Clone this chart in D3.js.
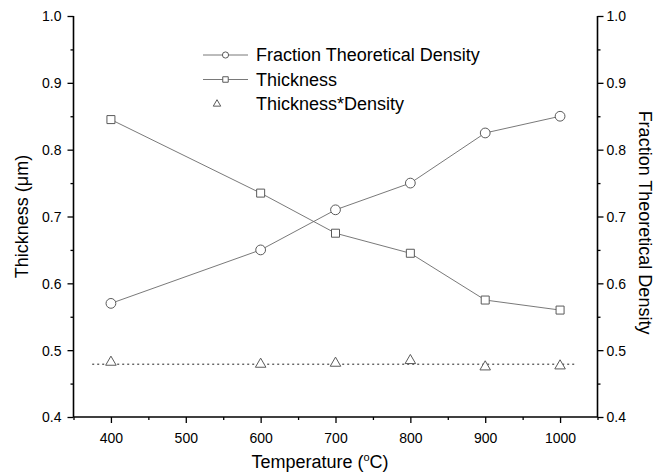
<!DOCTYPE html>
<html>
<head>
<meta charset="utf-8">
<script src="https://cdn.jsdelivr.net/npm/d3@7"></script>
<style>
	body { margin: 0; background: white; }
	text { font-family: "Liberation Sans", Arial, sans-serif; fill: black; }
</style>
</head>
<body>
<svg id="chart" width="660" height="474"></svg>
<script>
// data
var temps = [400, 600, 700, 800, 900, 1000]
var density = [0.57, 0.65, 0.71, 0.75, 0.825, 0.85]
var thickness = [0.845, 0.735, 0.675, 0.645, 0.575, 0.56]
var thickDens = [0.482, 0.479, 0.4805, 0.4845, 0.475, 0.4765]
var avgLine = [[375, 0.479], [1020, 0.479]]
var xTicks = [400, 500, 600, 700, 800, 900, 1000]
var yTicks = [0.4, 0.5, 0.6, 0.7, 0.8, 0.9, 1.0]

var m = {left: 73.5, right: 62.5, top: 16, bottom: 57}
var W = 660, H = 474
var svg = d3.select("#chart")

var x = d3.scaleLinear().domain([350, 1050]).range([m.left, W - m.right])
var y = d3.scaleLinear().domain([0.4, 1.0]).range([H - m.bottom, m.top])

var lineCol = "#6a6a6a", markCol = "#5a5a5a"

// axes, minor ticks every half step
var gx = svg.append("g").attr("transform", "translate(0," + (H - m.bottom) + ")")
gx.call(d3.axisBottom(x).tickValues(d3.range(350, 1051, 50)).tickSize(3).tickFormat(""))
gx.selectAll(".tick").filter(d => xTicks.indexOf(d) >= 0).select("line").attr("y2", 6)
gx.selectAll(".tick").filter(d => xTicks.indexOf(d) >= 0).append("text")
	.attr("y", 26).attr("text-anchor", "middle").style("font-size", "14px").text(d => d)

var gy = svg.append("g").attr("transform", "translate(" + m.left + ",0)")
gy.call(d3.axisLeft(y).tickValues(d3.range(0.4, 1.001, 0.05)).tickSize(3).tickFormat(""))
gy.selectAll(".tick").filter((d, i) => i % 2 == 0).select("line").attr("x2", -6)
gy.selectAll(".tick").filter((d, i) => i % 2 == 0).append("text")
	.attr("x", -12).attr("dy", "0.35em").attr("text-anchor", "end").style("font-size", "14px")
	.text(d => d.toFixed(1))

var gr = svg.append("g").attr("transform", "translate(" + (W - m.right) + ",0)")
gr.call(d3.axisRight(y).tickValues(d3.range(0.4, 1.001, 0.05)).tickSize(3).tickFormat(""))
gr.selectAll(".tick").filter((d, i) => i % 2 == 0).select("line").attr("x2", 6)
gr.selectAll(".tick").filter((d, i) => i % 2 == 0).append("text")
	.attr("x", 9).attr("dy", "0.35em").attr("text-anchor", "start").style("font-size", "14px")
	.text(d => d.toFixed(1))

svg.selectAll(".tick line").attr("stroke", "black").attr("stroke-width", 1.3)
gx.select(".domain").attr("d", "M" + m.left + ",0H" + (W - m.right))
gy.select(".domain").attr("d", "M0," + (H - m.bottom) + "V" + m.top)
gr.select(".domain").attr("d", "M0," + (H - m.bottom) + "V" + m.top)
svg.selectAll(".domain").attr("stroke", "black").attr("stroke-width", 1.6)

// axis titles
var midY = (m.top + H - m.bottom) / 2
svg.append("text").attr("transform", "translate(28," + midY + ") rotate(-90)")
	.attr("text-anchor", "middle").style("font-size", "18px").text("Thickness (μm)")
svg.append("text").attr("transform", "translate(639," + (midY + 6) + ") rotate(90)")
	.attr("text-anchor", "middle").style("font-size", "18px").text("Fraction Theoretical Density")
var xt = svg.append("text").attr("x", 320).attr("y", 468)
	.attr("text-anchor", "middle").style("font-size", "18px")
xt.append("tspan").text("Temperature (")
xt.append("tspan").attr("dy", -7).style("font-size", "11px").text("o")
xt.append("tspan").attr("dy", 7).text("C)")

// lines
var line = d3.line().x(d => x(d[0])).y(d => y(d[1]))
svg.append("path").datum(temps.map((t, i) => [t, density[i]]))
	.attr("d", line).attr("fill", "none").attr("stroke", lineCol).attr("stroke-width", 0.9)
svg.append("path").datum(temps.map((t, i) => [t, thickness[i]]))
	.attr("d", line).attr("fill", "none").attr("stroke", lineCol).attr("stroke-width", 0.9)
svg.append("path").datum(avgLine)
	.attr("d", line).attr("fill", "none").attr("stroke", "#222").attr("stroke-width", 1)
	.attr("stroke-dasharray", "2,3")

// markers
var circ = d3.symbol().type(d3.symbolCircle).size(75)
var sq = d3.symbol().type(d3.symbolSquare).size(64)
var tri = d3.symbol().type(d3.symbolTriangle).size(48)
function marks(vals, sym) {
	svg.append("g").selectAll("path").data(vals).join("path")
		.attr("transform", (d, i) => "translate(" + x(temps[i]) + "," + y(d) + ")")
		.attr("d", sym).attr("fill", "white").attr("stroke", markCol).attr("stroke-width", 1)
}
marks(density, circ)
marks(thickness, sq)
marks(thickDens, tri)

// legend
var legend = [
	{name: "Fraction Theoretical Density", sym: d3.symbol().type(d3.symbolCircle).size(30), line: true},
	{name: "Thickness", sym: d3.symbol().type(d3.symbolSquare).size(30), line: true},
	{name: "Thickness*Density", sym: d3.symbol().type(d3.symbolTriangle).size(24), line: false}
]
var lg = svg.append("g").selectAll("g").data(legend).join("g")
	.attr("transform", (d, i) => "translate(0," + (55 + i * 24.5) + ")")
lg.filter(d => d.line).append("line").attr("x1", 203).attr("x2", 248)
	.attr("stroke", lineCol).attr("stroke-width", 0.9)
lg.append("path").attr("transform", (d, i) => "translate(" + (d.line ? 225.5 : 217) + ",0)").attr("d", d => d.sym())
	.attr("fill", "white").attr("stroke", markCol)
lg.append("text").attr("x", 256).attr("dy", "0.35em").style("font-size", "18px").text(d => d.name)
</script>
</body>
</html>
